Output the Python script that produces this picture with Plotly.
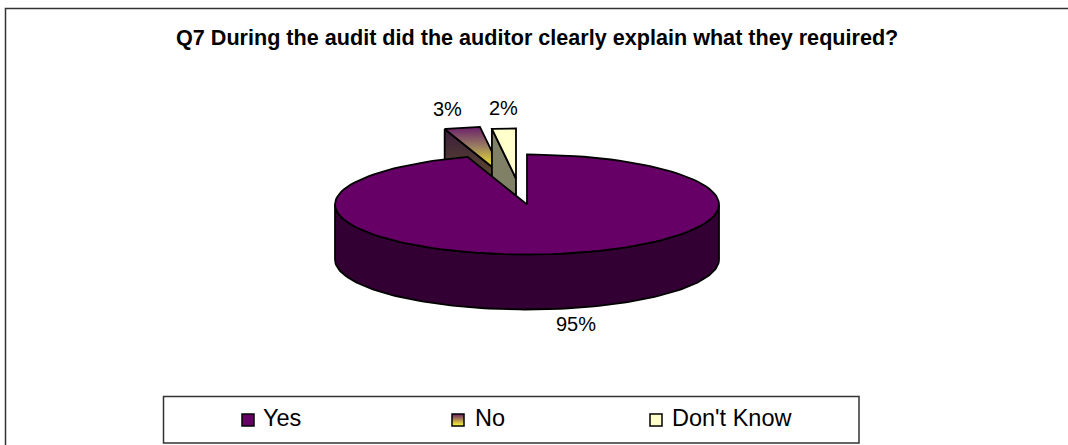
import numpy as np
import plotly.graph_objects as go

# Survey responses for Q7
categories = ["Yes", "No", "Don't Know"]
percentages = [95, 3, 2]
label_text = ["95%", "3%", "2%"]
title_text = "Q7 During the audit did the auditor clearly explain what they required?"

W, H = 1068, 445
CX, CY = 527, 204.5   # centre of the pie's top face
RX, RY = 192, 50      # radii of the tilted top face
DEPTH = 55            # height of the pie wall
EXPLODE_SHIFT = [(0, 0), (-23, -28), (-11, -26)]  # how far each slice is pulled out
OUTLINE = dict(color="black", width=1.8)

fractions = np.array(percentages) / sum(percentages)
edges = np.concatenate([[0], np.cumsum(fractions)]) * 2 * np.pi


def rim(a0, a1, dx=0.0, dy=0.0, n=120):
    t = np.linspace(a0, a1, n)
    return CX + dx + RX * np.sin(t), CY + dy - RY * np.cos(t)


def poly(x, y, **kw):
    return go.Scatter(x=list(x), y=list(y), mode="lines", fill="toself", line=OUTLINE,
                      hoverinfo="skip", showlegend=False, **kw)


def wedge(i):
    dx, dy = EXPLODE_SHIFT[i]
    x, y = rim(edges[i], edges[i + 1], dx, dy)
    return dx, dy, np.r_[CX + dx, x, CX + dx], np.r_[CY + dy, y, CY + dy]


fig = go.Figure()

# Exploded slices: cut walls first, top faces after
dx, dy, xn, yn = wedge(1)
ax, ay = rim(edges[1], edges[1], dx, dy, 1)
fig.add_trace(poly([ax[0], CX + dx, CX + dx, ax[0], ax[0]],
                   [ay[0], CY + dy, CY + dy + DEPTH, ay[0] + DEPTH, ay[0]],
                   fillgradient=dict(type="vertical",
                                     colorscale=[[0, "#807a20"], [1, "#3a1c3c"]])))
fig.add_trace(poly(xn, yn, fillgradient=dict(type="vertical",
                                             colorscale=[[0, "#ffff33"], [0.2, "#f0e030"],
                                                         [0.6, "#9a8060"], [1, "#6b1f6b"]])))

dx, dy, xd, yd = wedge(2)
ax, ay = rim(edges[2], edges[2], dx, dy, 1)
fig.add_trace(poly([ax[0], CX + dx, CX + dx, ax[0], ax[0]],
                   [ay[0], CY + dy, CY + dy + DEPTH, ay[0] + DEPTH, ay[0]],
                   fillcolor="#808066"))
fig.add_trace(poly(xd, yd, fillcolor="#ffffcc"))

# Large slice: visible wall along the front of the rim, then its top face
xf, yf = rim(np.pi / 2, 3 * np.pi / 2)
fig.add_trace(poly(np.r_[xf, xf[::-1], xf[0]], np.r_[yf, yf[::-1] + DEPTH, yf[0]], fillcolor="#330033"))
x, y = rim(edges[0], edges[1])
fig.add_trace(poly(np.r_[CX, x, CX], np.r_[CY, y, CY], fillcolor="#660066"))

# Legend swatches
swatch_x = [248, 458, 656]
text_x = [261, 473, 670]
SWATCH_Y, LEGEND_TEXT_Y = 420, 418
swatch_fill = [dict(color="#660066"),
               dict(color="#6b1f6b", gradient=dict(type="vertical", color="#ffff33")),
               dict(color="#ffffcc")]
for sx, fill in zip(swatch_x, swatch_fill):
    fig.add_trace(go.Scatter(x=[sx], y=[SWATCH_Y], mode="markers", hoverinfo="skip", showlegend=False,
                             marker=dict(symbol="square", size=12, line=dict(color="black", width=1.5), **fill)))

ARIAL = "Liberation Sans, Arial, sans-serif"
annotations = [dict(x=537, y=37, text=f"<b>{title_text}</b>", font=dict(size=21.6)),
               dict(x=576, y=324, text=label_text[0], font=dict(size=20)),
               dict(x=447, y=109, text=label_text[1], font=dict(size=20)),
               dict(x=503, y=108, text=label_text[2], font=dict(size=20))]
for tx, name in zip(text_x, categories):
    annotations.append(dict(x=tx, y=LEGEND_TEXT_Y, text=name, xanchor="left", font=dict(size=23.5)))
for a in annotations:
    a.update(xref="x", yref="y", showarrow=False)
    a.setdefault("xanchor", "center")
    a["font"].update(family=ARIAL, color="black")

frame = dict(type="rect", xref="x", yref="y", line=dict(color="#333333", width=1.5), layer="below")
fig.update_layout(
    width=W, height=H, margin=dict(l=0, r=0, t=0, b=0), paper_bgcolor="white", plot_bgcolor="white",
    xaxis=dict(range=[0, W], visible=False, fixedrange=True),
    yaxis=dict(range=[H, 0], visible=False, fixedrange=True),
    annotations=annotations,
    shapes=[dict(frame, x0=5.5, y0=8.5, x1=1075, y1=460),
            dict(frame, x0=163.5, y0=396.5, x1=859, y1=443)],
)
fig.write_html("out.html", config=dict(displayModeBar=False))
